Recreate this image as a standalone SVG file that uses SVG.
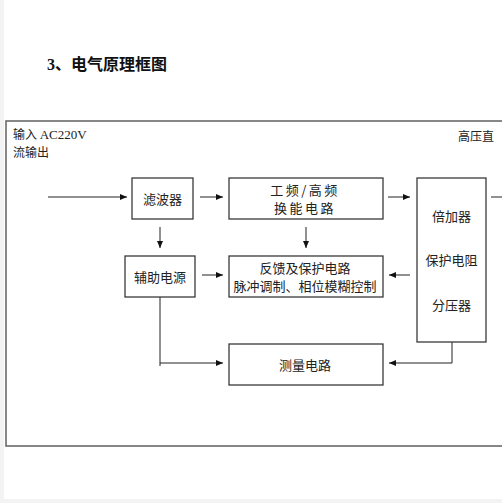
<svg xmlns="http://www.w3.org/2000/svg" width="502" height="503" viewBox="0 0 502 503">
<defs>
<style>
.box{fill:#fff;stroke:#3a3a3a;stroke-width:1.3}
.t{font-family:"Noto Sans CJK SC","Liberation Sans",sans-serif;font-size:13px;fill:#222;text-anchor:middle;dominant-baseline:central}
.c{fill:none;stroke:#222;stroke-width:1}
</style>
<marker id="ah" markerWidth="8" markerHeight="6" refX="7" refY="3" orient="auto" markerUnits="userSpaceOnUse">
<path d="M0,0 L7,3 L0,6 Z" fill="#111"/>
</marker>
</defs>
<rect x="0" y="0" width="502" height="503" fill="#f3f3f3"/>
<rect x="4" y="0" width="498" height="499" fill="#fff"/>
<text x="47" y="70" font-family="'Liberation Serif','Noto Sans CJK SC',serif" font-size="16" font-weight="bold" fill="#111">3、电气原理框图</text>
<rect x="6" y="121" width="500" height="325" fill="none" stroke="#6a6a6a" stroke-width="1.6"/>
<text x="13" y="139" font-family="'Noto Sans CJK SC',sans-serif" font-size="12" fill="#222">输入 <tspan font-family="'Liberation Serif',serif" font-size="13">AC220V</tspan></text>
<text x="13" y="157" font-family="'Noto Sans CJK SC',sans-serif" font-size="12" fill="#222">流输出</text>
<text x="458" y="141" font-family="'Noto Sans CJK SC',sans-serif" font-size="12" fill="#222">高压直</text>
<g id="connectors">
<line class="c" x1="48" y1="197" x2="127" y2="197" marker-end="url(#ah)"/>
<line class="c" x1="200" y1="197" x2="223" y2="197" marker-end="url(#ah)"/>
<line class="c" x1="388" y1="197" x2="410" y2="197" marker-end="url(#ah)"/>
<line class="c" x1="491" y1="197" x2="502" y2="197"/>
<line class="c" x1="160" y1="227" x2="160" y2="248" marker-end="url(#ah)"/>
<line class="c" x1="306" y1="227" x2="306" y2="248" marker-end="url(#ah)"/>
<line class="c" x1="202" y1="275" x2="223" y2="275" marker-end="url(#ah)"/>
<line class="c" x1="410" y1="275" x2="389" y2="275" marker-end="url(#ah)"/>
<polyline class="c" points="160,297 160,366"/>
<line class="c" x1="160" y1="363" x2="223" y2="363" marker-end="url(#ah)"/>
<polyline class="c" points="452,335 452,363 389,363" marker-end="url(#ah)"/>
</g>
<g id="filter"><rect class="box" x="132" y="178" width="61" height="41"/><text class="t" x="162.5" y="198.5">滤波器</text></g>
<g id="inverter"><rect class="box" x="229" y="178" width="154" height="41"/><text class="t" x="305" y="189.5" font-size="12" letter-spacing="2.5">工频/高频</text><text class="t" x="305" y="207.5" font-size="12" letter-spacing="2.5">换能电路</text></g>
<g id="multiplier"><rect class="box" x="417" y="178" width="69" height="164"/><text class="t" x="451.5" y="215">倍加器</text><text class="t" x="451.5" y="259">保护电阻</text><text class="t" x="451.5" y="304">分压器</text></g>
<g id="aux"><rect class="box" x="125" y="256" width="70" height="41"/><text class="t" x="160" y="276.5">辅助电源</text></g>
<g id="feedback"><rect class="box" x="229" y="256" width="154" height="41"/><text class="t" x="305" y="267.5" font-size="11.5">反馈及保护电路</text><text class="t" x="305" y="285.5" font-size="11.5">脉冲调制、相位模糊控制</text></g>
<g id="measure"><rect class="box" x="229" y="344" width="154" height="41"/><text class="t" x="305" y="364.5">测量电路</text></g>
</svg>
